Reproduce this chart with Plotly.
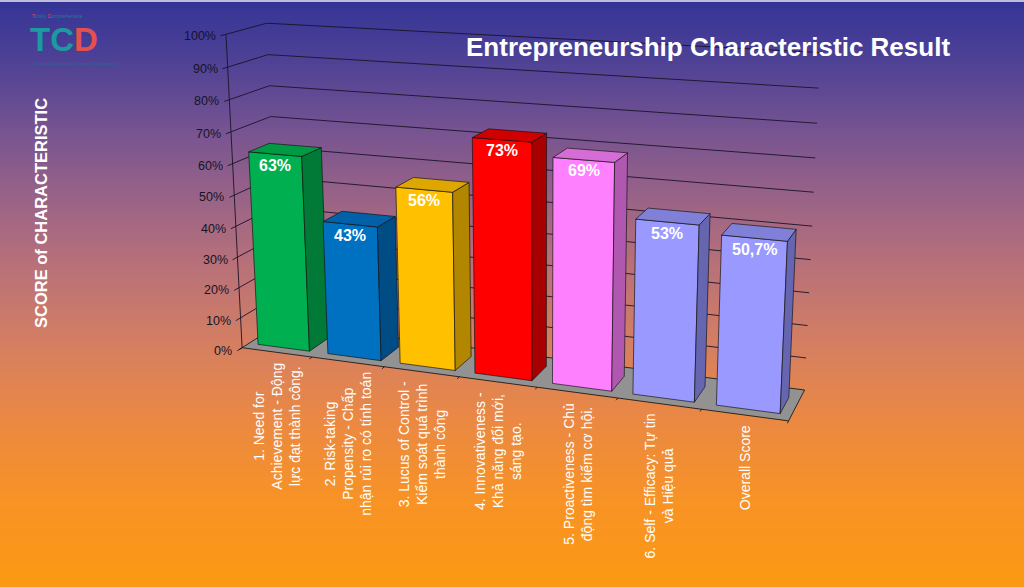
import numpy as np
import plotly.graph_objects as go

# ---------------- data ----------------
categories = [
    "1. Need for<br>Achievement - Động<br>lực đạt thành công.",
    "2. Risk-taking<br>Propensity - Chấp<br>nhận rủi ro có tính toán",
    "3. Lucus of Control -<br>Kiểm soát quá trình<br>thành công",
    "4. Innovativeness -<br>Khả năng đổi mới,<br>sáng tạo.",
    "5. Proactiveness - Chủ<br>động tìm kiếm cơ hội.",
    "6. Self - Efficacy: Tự tin<br>và Hiệu quả",
    "Overall Score",
]
scores = [0.63, 0.43, 0.56, 0.73, 0.69, 0.53, 0.507]
score_labels = ["63%", "43%", "56%", "73%", "69%", "53%", "50,7%"]
tick_values = [0.0, 0.1, 0.2, 0.3, 0.4, 0.5, 0.6, 0.7, 0.8, 0.9, 1.0]
tick_labels = ["0%", "10%", "20%", "30%", "40%", "50%", "60%", "70%", "80%", "90%", "100%"]

# ---------------- styles ----------------
front_colors = ["#00B050", "#0070C0", "#FFC000", "#FF0000", "#FF80FF", "#9999FF", "#9999FF"]
side_colors = ["#007A36", "#004C85", "#B38600", "#A80000", "#B058B0", "#6666B0", "#6666B0"]
top_colors = ["#009A45", "#0060A8", "#DDA600", "#D00000", "#D66CD6", "#8080D8", "#8080D8"]
FONT = "Liberation Sans, Arial, sans-serif"
W, H = 1024, 587

# ---------------- 3D frame (perspective camera fitted to the chart box) ----------------
n = len(categories)
frame_world = [(k / n, 0.0, 0.0) for k in range(n + 1)] + [
    (0, 1, 0), (0, 0.5, 0), (0, 1, 1), (0, 0.9, 1), (0, 0.7, 1),
    (1, 1, 1), (1, 0.9, 1), (1, 0, 1)]
front_x = [243, 312, 384, 459, 537, 618, 702, 788]
frame_px = [(x, 348 + 0.134 * (x - 243)) for x in front_x] + [
    (226, 34), (234.5, 194), (267, 23), (268, 55), (270, 117),
    (820, 54), (819, 87), (805, 389)]


def fit_camera(world, img):
    A, b = [], []
    for (X, Y, Z), (x, y) in zip(world, img):
        A.append([X, Y, Z, 1, 0, 0, 0, 0, -x * X, -x * Y, -x * Z]); b.append(x)
        A.append([0, 0, 0, 0, X, Y, Z, 1, -y * X, -y * Y, -y * Z]); b.append(y)
    p, *_ = np.linalg.lstsq(np.array(A, float), np.array(b, float), rcond=None)
    return np.append(p, 1.0).reshape(3, 4)


P = fit_camera(frame_world, frame_px)


def project(u, v, w):
    q = P @ np.array([u, v, w, 1.0])
    return q[0] / q[2], q[1] / q[2]


def poly(points):
    pts = [project(*p) for p in points]
    xs = [p[0] for p in pts] + [pts[0][0]]
    ys = [p[1] for p in pts] + [pts[0][1]]
    return xs, ys


fig = go.Figure()

# ---------------- background gradient ----------------
stops = [(0, (52, 52, 150)), (60, (78, 66, 150)), (130, (118, 84, 146)), (200, (155, 100, 135)),
         (270, (186, 114, 120)), (340, (212, 127, 100)), (420, (235, 137, 68)),
         (500, (248, 147, 38)), (587, (252, 154, 20))]
sy = [s[0] for s in stops]
shapes = []
step = 4
for y0 in range(0, H, step):
    yc = y0 + step / 2
    col = [int(np.interp(yc, sy, [s[1][c] for s in stops])) for c in range(3)]
    shapes.append(dict(type="rect", xref="x", yref="y", x0=0, x1=W, y0=y0, y1=min(H, y0 + step + 0.5),
                       fillcolor=f"rgb({col[0]},{col[1]},{col[2]})", line=dict(width=0), layer="below"))
shapes.append(dict(type="line", xref="x", yref="y", x0=0, x1=W, y0=1, y1=1,
                   line=dict(color="rgba(225,225,235,0.8)", width=2), layer="below"))

LINE = "rgba(25,20,40,0.9)"
DEPTH_OUT = -0.12


def add_line(xs, ys, color=LINE, width=1):
    fig.add_trace(go.Scatter(x=xs, y=ys, mode="lines", line=dict(color=color, width=width),
                             hoverinfo="skip", showlegend=False))


def add_face(points, fill, lw=0.8):
    xs, ys = poly(points)
    fig.add_trace(go.Scatter(x=xs, y=ys, mode="lines", fill="toself", fillcolor=fill,
                             line=dict(color="rgba(20,20,20,0.85)", width=lw),
                             hoverinfo="skip", showlegend=False))


# gridlines on side wall and back wall
for v in tick_values[1:]:
    pts = [project(0, v, DEPTH_OUT), project(0, v, 1), project(1, v, 1)]
    add_line([p[0] for p in pts], [p[1] for p in pts])

# value axis line
a0, a1 = project(0, 0, 0), project(0, 1, 0)
add_line([a0[0], a1[0]], [a0[1], a1[1]])

# floor
add_face([(0, 0, 0), (1, 0, 0), (1, 0, 1), (0, 0, 1)], "rgb(146,146,146)", lw=1)
t0, t1 = project(0, 0, DEPTH_OUT), project(0, 0, 0)
add_line([t0[0], t1[0]], [t0[1], t1[1]])

# category ticks
for k in range(n + 1):
    p0, p1 = project(k / n, 0, 0), project(k / n, 0, DEPTH_OUT * 0.6)
    add_line([p0[0], p1[0]], [p0[1], p1[1]])

# bars
hw = 0.37
w0, w1 = 0.18, 0.70
annotations = []
for i, (val, lab) in enumerate(zip(scores, score_labels)):
    u0, u1 = (i + 0.5 - hw) / n, (i + 0.5 + hw) / n
    add_face([(u0, 0, w0), (u1, 0, w0), (u1, val, w0), (u0, val, w0)], front_colors[i])
    add_face([(u1, 0, w0), (u1, 0, w1), (u1, val, w1), (u1, val, w0)], side_colors[i])
    add_face([(u0, val, w0), (u1, val, w0), (u1, val, w1), (u0, val, w1)], top_colors[i])
    lx, ly = project((u0 + u1) / 2, val, w0)
    annotations.append(dict(x=lx, y=ly, xref="x", yref="y", text=f"<b>{lab}</b>", showarrow=False,
                            yanchor="middle", xanchor="center", yshift=-11,
                            font=dict(family=FONT, size=16, color="white")))
    cx, cy = project((i + 0.5) / n, 0, 0)
    annotations.append(dict(x=cx, y=cy, xref="x", yref="y", text=categories[i], showarrow=False,
                            textangle=-90, yanchor="top", xanchor="center", yshift=-8, align="center",
                            font=dict(family=FONT, size=14, color="white")))

# value tick labels
for v, t in zip(tick_values, tick_labels):
    x, y = project(0, v, DEPTH_OUT)
    annotations.append(dict(x=x, y=y, xref="x", yref="y", text=t, showarrow=False,
                            xanchor="right", yanchor="middle", xshift=-3,
                            font=dict(family=FONT, size=12.5, color="#141428")))

# titles
annotations.append(dict(x=708, y=47, xref="x", yref="y", showarrow=False,
                        text="<b>Entrepreneurship Characteristic Result</b>",
                        font=dict(family=FONT, size=26, color="white")))
annotations.append(dict(x=41, y=213, xref="x", yref="y", showarrow=False, textangle=-90,
                        text="<b>SCORE of CHARACTERISTIC</b>",
                        font=dict(family=FONT, size=16.5, color="white")))

# logo
annotations.append(dict(x=29, y=39.5, xref="x", yref="y", showarrow=False, xanchor="left", yanchor="middle",
                        borderpad=0,
                        text="<b><span style='color:#1d9aa0'>TC</span><span style='color:#e4504c'>D</span></b>",
                        font=dict(family=FONT, size=33)))
annotations.append(dict(x=31, y=16, xref="x", yref="y", showarrow=False, xanchor="left", yanchor="middle",
                        borderpad=0,
                        text="<span style='color:#e4504c'>T</span>otally <span style='color:#e4504c'>C</span>omprehensive",
                        font=dict(family=FONT, size=5, color="#1d7f90")))
annotations.append(dict(x=31, y=63, xref="x", yref="y", showarrow=False, xanchor="left", yanchor="middle",
                        borderpad=0,
                        text="Training &amp; Consulting for Business Development",
                        font=dict(family=FONT, size=4, color="#1d6f90")))

fig.update_layout(
    width=W, height=H, margin=dict(l=0, r=0, t=0, b=0),
    paper_bgcolor="rgb(252,154,20)", plot_bgcolor="rgba(0,0,0,0)",
    xaxis=dict(range=[0, W], visible=False, fixedrange=True),
    yaxis=dict(range=[H, 0], visible=False, fixedrange=True),
    shapes=shapes, annotations=annotations, showlegend=False,
)
fig.write_html("out.html", config={"displayModeBar": False},
               post_script="document.body.style.margin='0';document.body.style.overflow='hidden';")
